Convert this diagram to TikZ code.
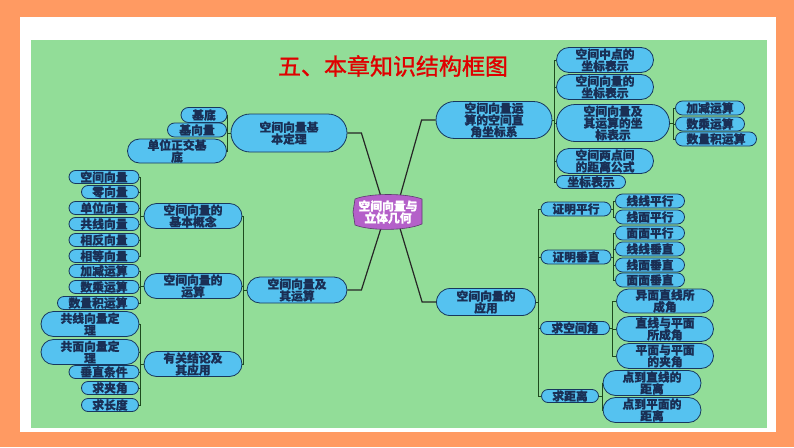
\documentclass[tikz,border=0pt]{standalone}
\usepackage{fontspec}
\newfontfamily\cjk{Noto Sans CJK SC}
\newfontfamily\cjkb{Noto Sans CJK SC}[FakeBold=0.6]
\newfontfamily\cjkt{Noto Sans CJK SC}[FakeBold=1.2]
\usetikzlibrary{shapes.misc}
\definecolor{orangebg}{HTML}{FF9A62}
\definecolor{greenbg}{HTML}{92DD98}
\definecolor{nodefill}{HTML}{55C2F0}
\definecolor{nodeborder}{HTML}{17375E}
\definecolor{nodetext}{HTML}{1A2F55}
\definecolor{brcol}{HTML}{1E4A1E}
\definecolor{purplefill}{HTML}{B460C9}
\definecolor{purpleborder}{HTML}{5C3A6E}
\definecolor{titlered}{HTML}{E00000}
\tikzset{
  nd/.style={rounded rectangle, draw=nodeborder, line width=0.8pt, fill=nodefill,
    text=nodetext, font=\cjkb\bfseries\fontsize{11.8}{11.8}\selectfont, align=center,
    inner xsep=0pt, inner ysep=0.3pt},
  br/.style={draw=brcol, line width=0.8pt},
  mainln/.style={draw=black!85, line width=1.2pt},
}
\newcommand\N[6]{\node[nd, minimum width=#4pt, minimum height=#5pt] (#1) at (#2,#3) {#6};}
\begin{document}
\begin{tikzpicture}[x=1pt,y=-1pt]
\useasboundingbox (0,0) rectangle (794,447);
% frame
\fill[orangebg] (0,0) rectangle (794,447);
\fill[white] (20,17) rectangle (776,432);
\fill[greenbg] (31,40) rectangle (767,428);
% title
\node[text=titlered, font=\cjkt\fontsize{23}{23}\selectfont] (title) at (393,66) {五、本章知识结构框图};
% left top
\N{jd}{204}{115}{46}{15}{基底}
\N{jxl}{197}{130}{59}{14}{基向量}
\N{dw}{177}{151}{99}{24}{单位正交基\\底}
\N{jbdl}{289}{133}{116}{38}{空间向量基\\本定理}
% left
\N{a1}{104}{177}{70}{13}{空间向量}
\N{a2}{110}{192}{57}{13}{零向量}
\N{a3}{104}{208}{70}{13}{单位向量}
\N{a4}{104}{224}{70}{13}{共线向量}
\N{a5}{104}{240}{70}{13}{相反向量}
\N{a6}{104}{256}{70}{13}{相等向量}
\N{b1}{104}{271}{70}{13}{加减运算}
\N{b2}{104}{287}{70}{13}{数乘运算}
\N{b3}{98}{303}{81}{13}{数量积运算}
\N{c1}{90}{324}{98}{25}{共线向量定\\理}
\N{c2}{90}{352}{98}{25}{共面向量定\\理}
\N{c3}{104}{372}{70}{13}{垂直条件}
\N{c4}{110}{388}{57}{13}{求夹角}
\N{c5}{110}{405}{57}{13}{求长度}
\N{A}{193}{216}{98}{25}{空间向量的\\基本概念}
\N{B}{193}{286}{98}{25}{空间向量的\\运算}
\N{C}{193}{364}{98}{25}{有关结论及\\其应用}
\N{M}{297}{290}{100}{26}{空间向量及\\其运算}
% right top
\N{R}{494}{120}{116}{37}{空间向量运\\算的空间直\\角坐标系}
\N{r1}{605}{60}{97}{25}{空间中点的\\坐标表示}
\N{r2}{605}{87}{97}{25}{空间向量的\\坐标表示}
\N{r3}{613}{123}{113}{37}{空间向量及\\其运算的坐\\标表示}
\N{r4}{605}{161}{97}{25}{空间两点间\\的距离公式}
\N{r5}{591}{182}{69}{13}{坐标表示}
\N{s1}{710}{108}{69}{14}{加减运算}
\N{s2}{710}{124}{69}{14}{数乘运算}
\N{s3}{716}{139}{81}{14}{数量积运算}
% right bottom
\N{Y}{486}{302}{99}{27}{空间向量的\\应用}
\N{p}{576}{209}{70}{14}{证明平行}
\N{p1}{650}{201}{69}{14}{线线平行}
\N{p2}{650}{217}{69}{14}{线面平行}
\N{v}{576}{257}{70}{14}{证明垂直}
\N{v1}{650}{233}{69}{14}{面面平行}
\N{v2}{650}{249}{69}{14}{线线垂直}
\N{v3}{650}{265}{69}{14}{线面垂直}
\N{v4}{650}{280}{69}{14}{面面垂直}
\N{k}{575}{328}{69}{13}{求空间角}
\N{k1}{665}{301}{97}{24}{异面直线所\\成角}
\N{k2}{665}{329}{97}{25}{直线与平面\\所成角}
\N{k3}{665}{356}{97}{25}{平面与平面\\的夹角}
\N{d}{570}{396}{57}{13}{求距离}
\N{d1}{652}{383}{98}{25}{点到直线的\\距离}
\N{d2}{652}{410}{98}{25}{点到平面的\\距离}
% brackets left
\foreach \l in {jd,jxl,dw} \draw[br] (jbdl.west) -- ++(-3,0) |- (\l.east);
\foreach \l in {a1,a2,a3,a4,a5,a6} \draw[br] (A.west) -- ++(-3,0) |- (\l.east);
\foreach \l in {b1,b2,b3} \draw[br] (B.west) -- ++(-3,0) |- (\l.east);
\foreach \l in {c1,c2,c3,c4,c5} \draw[br] (C.west) -- ++(-3,0) |- (\l.east);
\foreach \l in {A,B,C} \draw[br] (M.west) -- ++(-3,0) |- (\l.east);
% brackets right
\foreach \l in {r1,r2,r3,r4,r5} \draw[br] (R.east) -- ++(1.5,0) |- (\l.west);
\foreach \l in {s1,s2,s3} \draw[br] (r3.east) -- ++(3,0) |- (\l.west);
\foreach \l in {p,v,k,d} \draw[br] (Y.east) -- ++(2,0) |- (\l.west);
\foreach \l in {p1,p2} \draw[br] (p.east) -- ++(2,0) |- (\l.west);
\foreach \l in {v1,v2,v3,v4} \draw[br] (v.east) -- ++(2,0) |- (\l.west);
\foreach \l in {k1,k2,k3} \draw[br] (k.east) -- ++(2,0) |- (\l.west);
\foreach \l in {d1,d2} \draw[br] (d.east) -- ++(3,0) |- (\l.west);
% center
\coordinate (cTL) at (382,200);
\coordinate (cTR) at (399,200);
\coordinate (cBL) at (382,225);
\coordinate (cBR) at (399,225);
\draw[mainln] (jbdl.east) -- ++(14,0) -- (cTL);
\draw[mainln] (R.west) -- ++(-14,0) -- (cTR);
\draw[mainln] (M.east) -- ++(14,0) -- (cBL);
\draw[mainln] (Y.west) -- ++(-14,0) -- (cBR);
\draw[fill=purplefill, draw=purpleborder, line width=0.6pt]
  (355,199) .. controls (370,193) and (406,193) .. (422,199) -- (422,224)
  .. controls (406,231) and (370,231) .. (355,225) -- (353,212) -- cycle;
\node[text=white, font=\cjkb\bfseries\fontsize{11.8}{12}\selectfont, align=center, inner sep=0pt] (c) at (388,212) {空间向量与\\立体几何};
\end{tikzpicture}
\end{document}
